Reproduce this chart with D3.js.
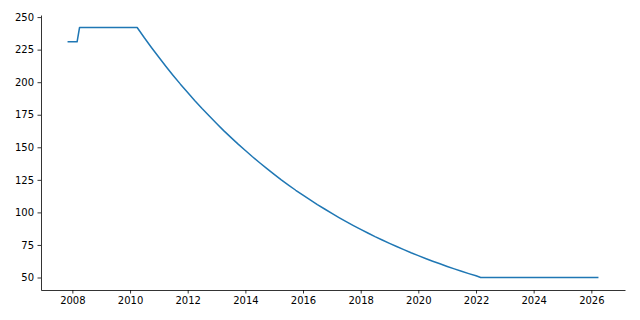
<!DOCTYPE html>
<html>
<head>
<meta charset="utf-8">
<script src="https://cdn.jsdelivr.net/npm/d3@7"></script>
<style>
  body { margin: 0; background: #fff; }
</style>
</head>
<body>
<div id="chart"></div>
<script>
// month of each point and the value
var dates = ["2007-11", "2008-03", "2008-04",
             "2010-04", "2010-07", "2010-10",
             "2011-01", "2011-04", "2011-07", "2011-10",
             "2012-01", "2012-04", "2012-07", "2012-10",
             "2013-01", "2013-04", "2013-07", "2013-10",
             "2014-01", "2014-04", "2014-07", "2014-10",
             "2015-01", "2015-04", "2015-07", "2015-10",
             "2016-01", "2016-04", "2016-07", "2016-10",
             "2017-01", "2017-04", "2017-07", "2017-10",
             "2018-01", "2018-04", "2018-07", "2018-10",
             "2019-01", "2019-04", "2019-07", "2019-10",
             "2020-01", "2020-04", "2020-07", "2020-10",
             "2021-01", "2021-04", "2021-07", "2021-10",
             "2022-01", "2022-03", "2026-04"];
var values = [231, 231, 242,
              242, 234.1, 226.5,
              219.2, 212.1, 205.2, 198.5,
              192.1, 185.8, 179.8, 174.0,
              168.3, 162.8, 157.6, 152.4,
              147.5, 142.7, 138.1, 133.6,
              129.2, 125.0, 121.0, 117.0,
              113.2, 109.6, 106.0, 102.6,
              99.2, 96.0, 92.9, 89.9,
              87.0, 84.2, 81.4, 78.8,
              76.2, 73.8, 71.4, 69.0,
              66.8, 64.6, 62.5, 60.5,
              58.5, 56.6, 54.8, 53.0,
              51.3, 50, 50];
var yTicks = [50, 75, 100, 125, 150, 175, 200, 225, 250];

var width = 640, height = 320;
var margin = {top: 15, right: 15, bottom: 30, left: 41};

var parse = d3.timeParse("%Y-%m");
var data = dates.map(function(d, i) { return {x: parse(d), y: values[i]}; });

// matplotlib-like 5% padding around the data
var xExt = d3.extent(data, function(d) { return +d.x; });
var xPad = (xExt[1] - xExt[0]) * 0.05;
var yExt = d3.extent(data, function(d) { return d.y; });
var yPad = (yExt[1] - yExt[0]) * 0.05;

var x = d3.scaleTime()
    .domain([new Date(xExt[0] - xPad), new Date(xExt[1] + xPad)])
    .range([margin.left, width - margin.right]);
var y = d3.scaleLinear()
    .domain([yExt[0] - yPad, yExt[1] + yPad])
    .range([height - margin.bottom, margin.top]);

var svg = d3.select("#chart")
  .append("svg")
  .attr("width", width)
  .attr("height", height);

svg.append("g")
    .attr("transform", "translate(0," + (height - margin.bottom) + ")")
    .call(d3.axisBottom(x)
      .ticks(d3.timeYear.every(2))
      .tickFormat(d3.timeFormat("%Y"))
      .tickSize(3.5)
      .tickSizeOuter(0)
      .tickPadding(3.5));

svg.append("g")
    .attr("transform", "translate(" + margin.left + ",0)")
    .call(d3.axisLeft(y)
      .tickValues(yTicks)
      .tickSize(3.5)
      .tickSizeOuter(0)
      .tickPadding(3.5));

svg.selectAll(".domain, .tick line")
    .attr("stroke", "#000")
    .attr("stroke-width", 0.8);
svg.selectAll(".tick text")
    .style("font-size", "10px")
    .style("font-family", "'DejaVu Sans'")
    .attr("fill", "#000");

var line = d3.line()
    .x(function(d) { return x(d.x); })
    .y(function(d) { return y(d.y); });

svg.append("path")
    .datum(data)
    .attr("fill", "none")
    .attr("stroke", "#1f77b4")
    .attr("stroke-width", 1.5)
    .attr("stroke-linejoin", "round")
    .attr("d", line);
</script>
</body>
</html>
